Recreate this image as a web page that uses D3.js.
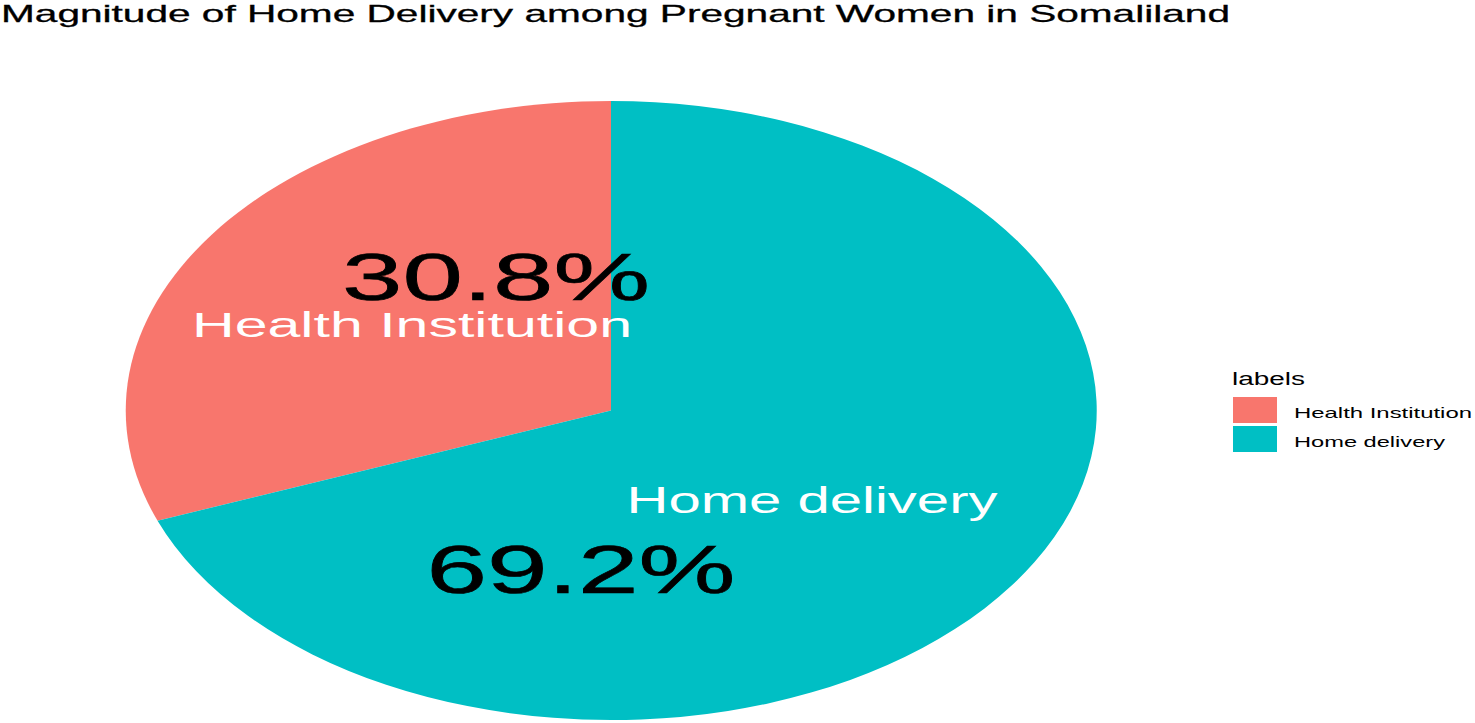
<!DOCTYPE html>
<html>
<head>
<meta charset="utf-8">
<script src="https://cdn.jsdelivr.net/npm/d3@7"></script>
<style>
  body { margin: 0; background: #fff; }
  svg { display: block; font-family: "Liberation Sans", Arial, sans-serif; }
</style>
</head>
<body>
<div id="chart"></div>
<script>
(function() {
var width = 1475,
  height = 723;

// data
var categories = ["Health Institution", "Home delivery"];
var shares = [30.8, 69.2];
var percentLabels = ["30.8%", "69.2%"];
var colors = ["#F8766D", "#00BFC4"];
var legendTitle = "labels";
var title = "Magnitude of Home Delivery among Pregnant Women in Somaliland";

// pie is drawn on a unit circle and stretched to an ellipse
var cx = 611, cy = 410.5, rx = 485.5, ry = 309.5;

// label layout: [centre x, baseline y, font size, text width]
var nameLayout = [[412, 337, 35, 440], [812, 513, 36, 371]];
var pctLayout = [[496, 300, 66, 308], [581, 593, 68, 309]];

var data = categories.map(function(c, i) {
  return { label: c, value: shares[i], pct: percentLabels[i] };
});

var color = d3.scaleOrdinal().domain(categories).range(colors);

var svg = d3.select("#chart")
  .append("svg")
  .attr("width", width)
  .attr("height", height);

svg.append("text")
  .attr("x", 1)
  .attr("y", 22)
  .attr("font-size", 24)
  .attr("fill", "#000")
  .attr("stroke", "#000")
  .attr("stroke-width", 0.3)
  .attr("textLength", 1229)
  .attr("lengthAdjust", "spacingAndGlyphs")
  .text(title);

var pie = d3.pie()
  .sort(null)
  .value(function(d) { return d.value; })
  .startAngle(0)
  .endAngle(-2 * Math.PI);

var arc = d3.arc().innerRadius(0).outerRadius(1);

svg.append("g")
  .attr("transform", "translate(" + cx + "," + cy + ") scale(" + rx + "," + ry + ")")
  .selectAll("path")
  .data(pie(data))
  .enter().append("path")
  .attr("d", arc)
  .attr("fill", function(d) { return color(d.data.label); });

var labels = svg.append("g");

labels.selectAll(".name")
  .data(data)
  .enter().append("text")
  .attr("class", "name")
  .attr("x", function(d, i) { return nameLayout[i][0]; })
  .attr("y", function(d, i) { return nameLayout[i][1]; })
  .attr("font-size", function(d, i) { return nameLayout[i][2]; })
  .attr("textLength", function(d, i) { return nameLayout[i][3]; })
  .attr("lengthAdjust", "spacingAndGlyphs")
  .attr("text-anchor", "middle")
  .attr("fill", "#fff")
  .text(function(d) { return d.label; });

labels.selectAll(".pct")
  .data(data)
  .enter().append("text")
  .attr("class", "pct")
  .attr("x", function(d, i) { return pctLayout[i][0]; })
  .attr("y", function(d, i) { return pctLayout[i][1]; })
  .attr("font-size", function(d, i) { return pctLayout[i][2]; })
  .attr("textLength", function(d, i) { return pctLayout[i][3]; })
  .attr("lengthAdjust", "spacingAndGlyphs")
  .attr("text-anchor", "middle")
  .attr("fill", "#000")
  .attr("stroke", "#000")
  .attr("stroke-width", 0.6)
  .text(function(d) { return d.pct; });

// legend
var legend = svg.append("g").attr("transform", "translate(1233,0)");

legend.append("text")
  .attr("x", -1)
  .attr("y", 385)
  .attr("font-size", 18)
  .attr("textLength", 73)
  .attr("lengthAdjust", "spacingAndGlyphs")
  .attr("fill", "#000")
  .text(legendTitle);

var item = legend.selectAll(".item")
  .data(categories)
  .enter().append("g")
  .attr("class", "item")
  .attr("transform", function(d, i) { return "translate(0," + (397 + i * 29) + ")"; });

item.append("rect")
  .attr("width", 44)
  .attr("height", 26)
  .attr("fill", function(d) { return color(d); });

item.append("text")
  .attr("x", 61)
  .attr("y", 21)
  .attr("font-size", 15)
  .attr("textLength", function(d, i) { return i === 0 ? 178 : 151; })
  .attr("lengthAdjust", "spacingAndGlyphs")
  .attr("fill", "#000")
  .text(function(d) { return d; });
})();
</script>
</body>
</html>
